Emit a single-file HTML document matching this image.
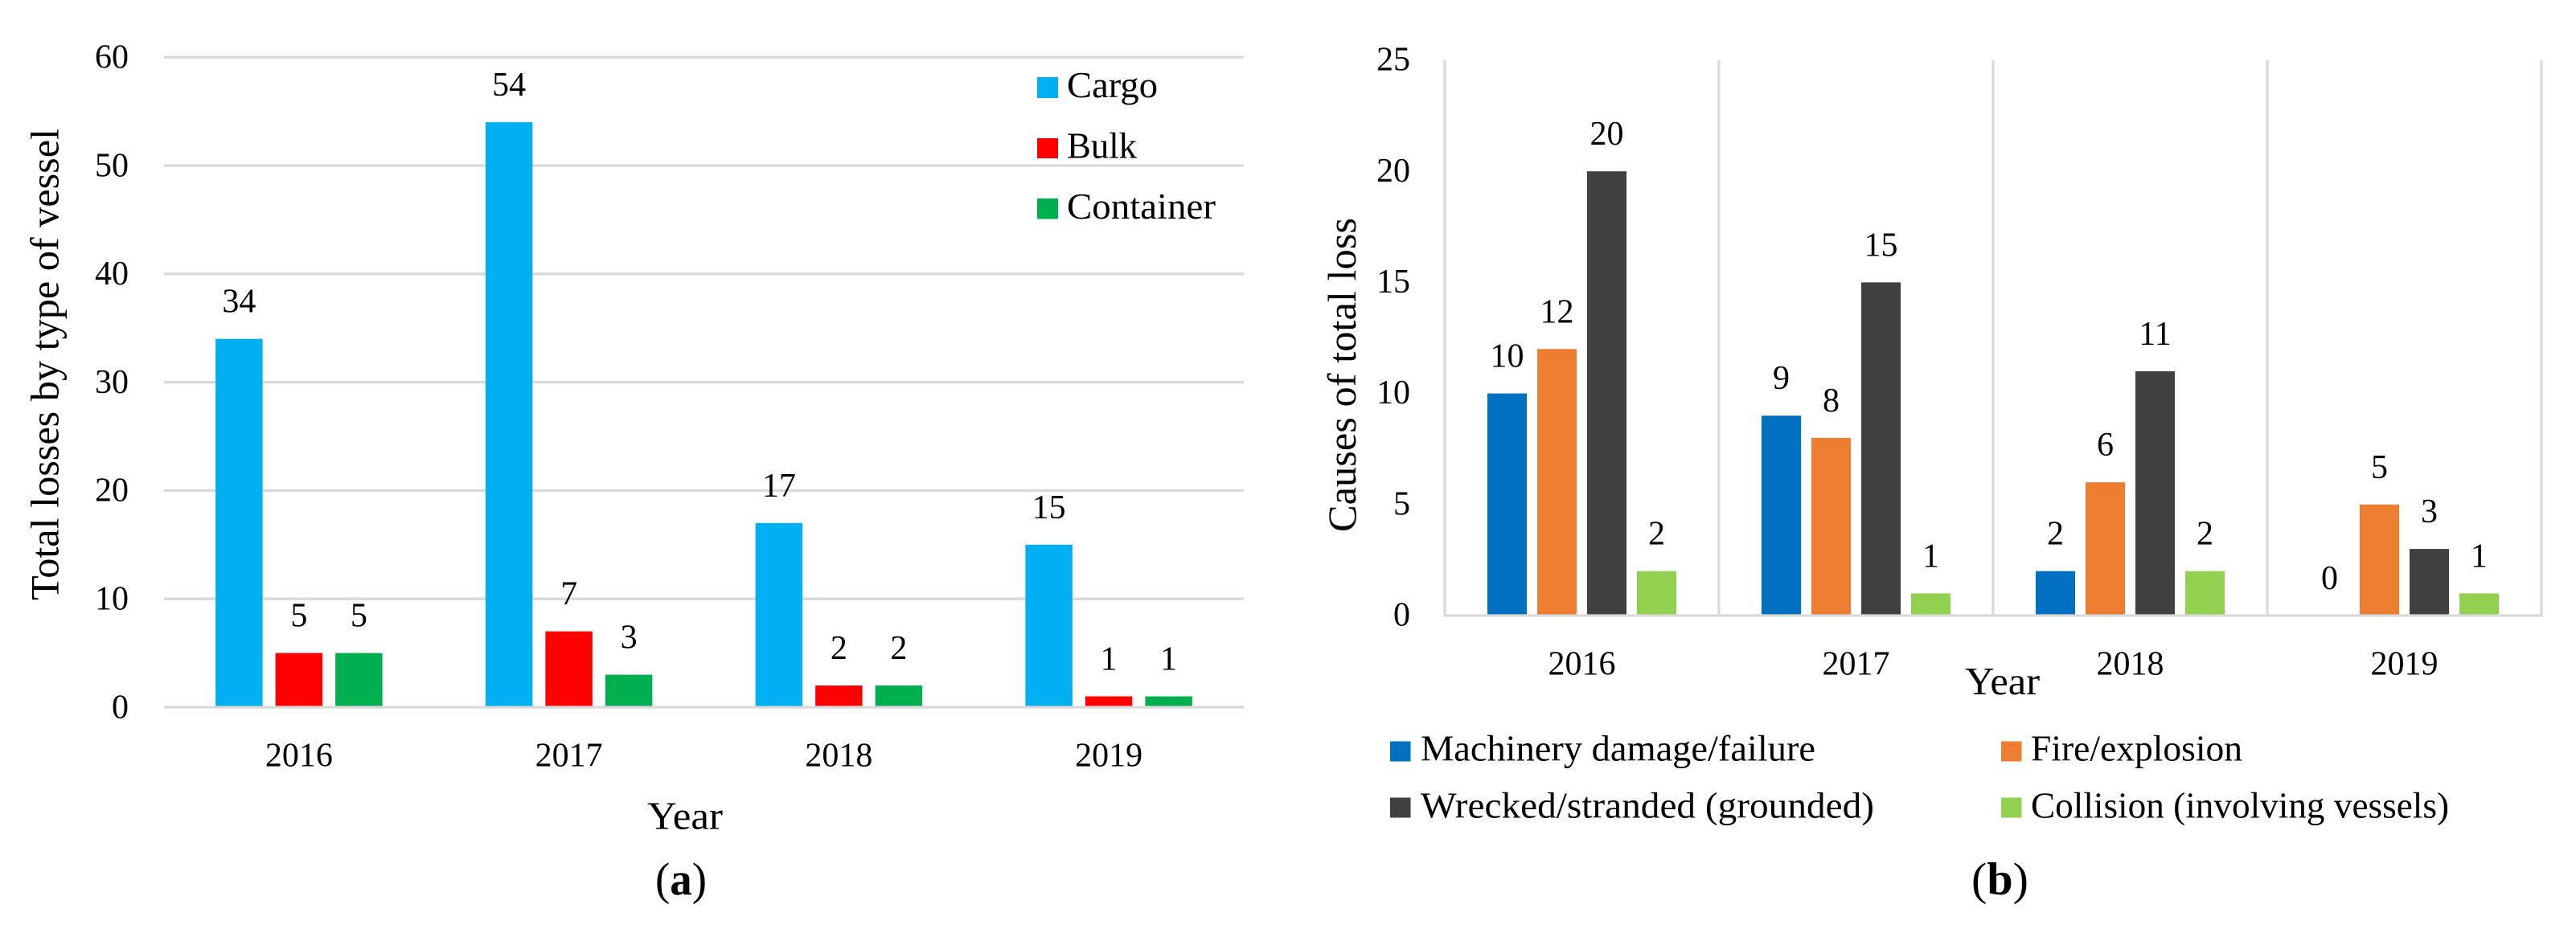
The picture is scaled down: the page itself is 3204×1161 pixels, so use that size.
<!DOCTYPE html>
<html lang="en">
<head>
<meta charset="utf-8">
<title>Total losses by vessel type and causes of total loss</title>
<style>
  html, body { margin: 0; padding: 0; background: #fff; }
  svg { display: block; }
  text { font-family: "Liberation Serif", serif; fill: #000; }
  .num { font-size: 42px; }
  .axis-title { font-size: 50px; }
  .year-title { font-size: 49px; }
  .legend { font-size: 45px; }
  .cap { font-size: 57px; }
</style>
</head>
<body>
<svg id="figure" xmlns="http://www.w3.org/2000/svg" width="3204" height="1161" viewBox="0 0 3204 1161">
  <rect x="0" y="0" width="3204" height="1161" fill="#ffffff"/>

  <g id="chart-a"></g>
  <g id="chart-b"></g>

  <text class="axis-title" transform="translate(72.500,747) rotate(-90)" textLength="587" lengthAdjust="spacingAndGlyphs">Total losses by type of vessel</text>
  <text class="year-title" x="805" y="1031.500" textLength="94" lengthAdjust="spacingAndGlyphs">Year</text>
  <text class="cap" x="815" y="1113" textLength="64" lengthAdjust="spacingAndGlyphs">(<tspan font-weight="bold">a</tspan>)</text>

  <g>
    <g>
      <rect x="1290" y="96" width="26" height="26" fill="#00B0F0"/>
      <text class="legend" x="1327" y="121" textLength="113" lengthAdjust="spacingAndGlyphs">Cargo</text>
    </g>
    <g>
      <rect x="1290" y="172" width="26" height="25" fill="#FF0000"/>
      <text class="legend" x="1327" y="196.500" textLength="87" lengthAdjust="spacingAndGlyphs">Bulk</text>
    </g>
    <g>
      <rect x="1290" y="247" width="26" height="25.500" fill="#00B050"/>
      <text class="legend" x="1327" y="272" textLength="185" lengthAdjust="spacingAndGlyphs">Container</text>
    </g>
  </g>

  <text class="axis-title" transform="translate(1686,662) rotate(-90)" textLength="391" lengthAdjust="spacingAndGlyphs">Causes of total loss</text>
  <text class="year-title" x="2444" y="864" textLength="93" lengthAdjust="spacingAndGlyphs">Year</text>
  <text class="cap" x="2452" y="1113" textLength="71" lengthAdjust="spacingAndGlyphs">(<tspan font-weight="bold">b</tspan>)</text>

  <g>
    <g>
      <rect x="1729" y="922.500" width="25.500" height="25" fill="#0070C0"/>
      <text class="legend" x="1767" y="946.500" textLength="491" lengthAdjust="spacingAndGlyphs">Machinery damage/failure</text>
    </g>
    <g>
      <rect x="2489" y="922.500" width="25.500" height="25" fill="#ED7D31"/>
      <text class="legend" x="2526" y="946.500" textLength="263" lengthAdjust="spacingAndGlyphs">Fire/explosion</text>
    </g>
    <g>
      <rect x="1729" y="992.500" width="25.500" height="25" fill="#404040"/>
      <text class="legend" x="1767" y="1017.500" textLength="564" lengthAdjust="spacingAndGlyphs">Wrecked/stranded (grounded)</text>
    </g>
    <g>
      <rect x="2489" y="992.500" width="25.500" height="25" fill="#92D050"/>
      <text class="legend" x="2526" y="1017.500" textLength="520" lengthAdjust="spacingAndGlyphs">Collision (involving vessels)</text>
    </g>
  </g>
</svg>

<script>
// Chart (a) data
const yearsA = ["2016", "2017", "2018", "2019"];
const tickLabelsA = [0, 10, 20, 30, 40, 50, 60];
const cargoValues = [34, 54, 17, 15];
const bulkValues = [5, 7, 2, 1];
const containerValues = [5, 3, 2, 1];

// Chart (b) data
const yearsB = ["2016", "2017", "2018", "2019"];
const tickLabelsB = [0, 5, 10, 15, 20, 25];
const machineryValues = [10, 9, 2, 0];
const fireValues = [12, 8, 6, 5];
const wreckedValues = [20, 15, 11, 3];
const collisionValues = [2, 1, 2, 1];

const SVG_NS = "http://www.w3.org/2000/svg";
const GRID = "#D9D9D9";

function shape(parent, tag) {
  const el = document.createElementNS(SVG_NS, tag);
  parent.appendChild(el);
  return el;
}

function line(parent, x1, y1, x2, y2, name) {
  const el = shape(parent, "line");
  
  
  el.setAttribute("x1", x1);
  el.setAttribute("y1", y1);
  el.setAttribute("x2", x2);
  el.setAttribute("y2", y2);
  el.setAttribute("stroke", GRID);
  el.setAttribute("stroke-width", 3.3);
}

function bar(parent, x, y, w, h, fill, name) {
  const el = shape(parent, "rect");
  
  
  el.setAttribute("x", x);
  el.setAttribute("y", y);
  el.setAttribute("width", w);
  el.setAttribute("height", h);
  el.setAttribute("fill", fill);
}

function label(parent, x, y, anchor, content, name) {
  const el = shape(parent, "text");
  
  
  el.setAttribute("class", "num");
  el.setAttribute("x", x);
  el.setAttribute("y", y);
  el.setAttribute("text-anchor", anchor);
  el.textContent = content;
}

// ---- Chart (a) ----
const chartA = document.getElementById("chart-a");
const aLeft = 204, aRight = 1547, aZero = 880, aTop = 71.2, aMax = 60;
const aGroup = (aRight - aLeft) / yearsA.length;
const aBarW = 58.5, aPitch = 74.5;
const yA = v => aZero - v * (aZero - aTop) / aMax;
const xA = (g, s, n) => aLeft + aGroup * (g + 0.5) + (s - (n - 1) / 2) * aPitch;

tickLabelsA.forEach(t => {
  if (t !== 0) line(chartA, aLeft, yA(t), aRight, yA(t), "gridline-" + t);
  label(chartA, 160, yA(t) + 13.3, "end", String(t), "y-tick-" + t);
});

const seriesA = [
  { key: "cargo", values: cargoValues, fill: "#00B0F0" },
  { key: "bulk", values: bulkValues, fill: "#FF0000" },
  { key: "container", values: containerValues, fill: "#00B050" }
];
seriesA.forEach((s, si) => {
  s.values.forEach((v, g) => {
    const cx = xA(g, si, seriesA.length);
    bar(chartA, cx - aBarW / 2, yA(v), aBarW, aZero - yA(v), s.fill, "bar-" + s.key + "-" + yearsA[g]);
    label(chartA, cx, yA(v) - 33, "middle", String(v), "value-" + s.key + "-" + yearsA[g]);
  });
});
line(chartA, aLeft, aZero, aRight, aZero, "x-axis-line");
yearsA.forEach((y, g) => {
  label(chartA, xA(g, 1, 3), 953.5, "middle", y, "x-tick-" + y);
});

// ---- Chart (b) ----
const chartB = document.getElementById("chart-b");
const bLeft = 1797, bRight = 3161, bZero = 766, bTop = 75, bMax = 25;
const bGroup = (bRight - bLeft) / yearsB.length;
const bBarW = 49, bPitch = 62;
const yB = v => bZero - v * (bZero - bTop) / bMax;
const xB = (g, s, n) => bLeft + bGroup * (g + 0.5) + (s - (n - 1) / 2) * bPitch;

tickLabelsB.forEach(t => {
  label(chartB, 1754, yB(t) + 12.6, "end", String(t), "y-tick-" + t);
});
yearsB.forEach((y, g) => {
  const vx = bLeft + bGroup * g;
  line(chartB, vx, bTop, vx, bZero, "group-divider-" + y);
});
line(chartB, bRight, bTop, bRight, bZero, "group-divider-end");

const seriesB = [
  { key: "machinery", values: machineryValues, fill: "#0070C0" },
  { key: "fire", values: fireValues, fill: "#ED7D31" },
  { key: "wrecked", values: wreckedValues, fill: "#404040" },
  { key: "collision", values: collisionValues, fill: "#92D050" }
];
seriesB.forEach((s, si) => {
  s.values.forEach((v, g) => {
    const cx = xB(g, si, seriesB.length);
    bar(chartB, cx - bBarW / 2, yB(v), bBarW, bZero - yB(v), s.fill, "bar-" + s.key + "-" + yearsB[g]);
    label(chartB, cx, yB(v) - 33, "middle", String(v), "value-" + s.key + "-" + yearsB[g]);
  });
});
line(chartB, bLeft - 1.5, bZero, bRight + 1.5, bZero, "x-axis-line");
yearsB.forEach((y, g) => {
  label(chartB, bLeft + bGroup * (g + 0.5), 839.7, "middle", y, "x-tick-" + y);
});
</script>
</body>
</html>
